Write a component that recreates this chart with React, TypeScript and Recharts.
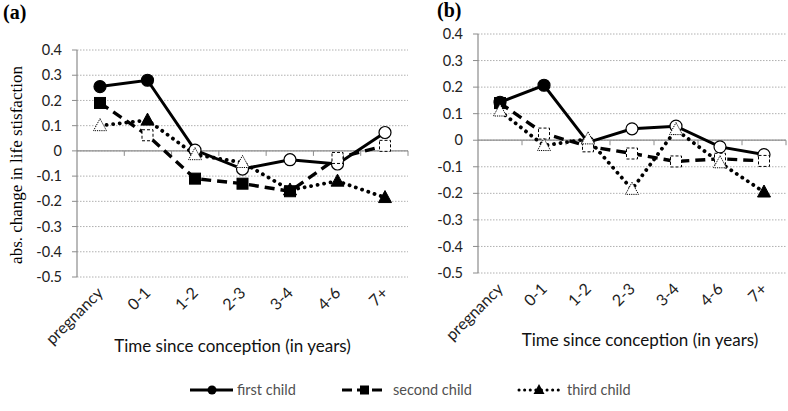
import React from 'react';
import { LineChart, Line, XAxis, YAxis, CartesianGrid, ReferenceLine, Label } from 'recharts';

// ---------- data ----------
const categories = ['pregnancy', '0-1', '1-2', '2-3', '3-4', '4-6', '7+'];
const yTicks = [-0.5, -0.4, -0.3, -0.2, -0.1, 0, 0.1, 0.2, 0.3, 0.4];

// panel (a)
const firstChildA = [0.255, 0.28, 0.003, -0.072, -0.035, -0.052, 0.073];
const secondChildA = [0.19, 0.062, -0.11, -0.13, -0.16, -0.028, 0.02];
const thirdChildA = [0.1, 0.122, -0.015, -0.046, -0.155, -0.12, -0.185];
// 1 = filled (significant) marker, 0 = hollow marker
const firstSigA = [1, 1, 0, 0, 0, 0, 0];
const secondSigA = [1, 0, 1, 1, 1, 0, 0];
const thirdSigA = [0, 1, 0, 0, 1, 1, 1];

// panel (b)
const firstChildB = [0.143, 0.207, -0.008, 0.043, 0.053, -0.025, -0.054];
const secondChildB = [0.14, 0.025, -0.023, -0.05, -0.08, -0.07, -0.078];
const thirdChildB = [0.11, -0.02, 0.005, -0.185, 0.04, -0.085, -0.195];
const firstSigB = [1, 1, 0, 0, 0, 0, 0];
const secondSigB = [1, 0, 0, 0, 0, 0, 0];
const thirdSigB = [0, 0, 0, 0, 0, 0, 1];

const seriesNames = ['first child', 'second child', 'third child'];
const xTitle = 'Time since conception (in years)';
const yTitle = 'abs. change in life stisfaction';

function buildRows(f: number[], s: number[], t: number[], fs: number[], ss: number[], ts: number[]) {
  return categories.map((c, i) => ({
    cat: c,
    first: f[i],
    second: s[i],
    third: t[i],
    s1: fs[i],
    s2: ss[i],
    s3: ts[i],
  }));
}

const rowsA = buildRows(firstChildA, secondChildA, thirdChildA, firstSigA, secondSigA, thirdSigA);
const rowsB = buildRows(firstChildB, secondChildB, thirdChildB, firstSigB, secondSigB, thirdSigB);

const FONT = 'Lato, "Open Sans", sans-serif';
const SERIF = '"Liberation Serif", "DejaVu Serif", serif';

// ---------- markers ----------
const circleDot = (props: any) => {
  const { cx, cy, payload, index } = props;
  if (cx == null || cy == null) return <g key={`c${index}`} />;
  const filled = payload.s1 === 1;
  return (
    <circle key={`c${index}`} cx={cx} cy={cy} r={6} fill={filled ? '#000' : '#fff'} stroke="#000" strokeWidth={1.2} />
  );
};

const squareDot = (props: any) => {
  const { cx, cy, payload, index } = props;
  if (cx == null || cy == null) return <g key={`s${index}`} />;
  const filled = payload.s2 === 1;
  return (
    <rect
      key={`s${index}`}
      x={cx - 5.5}
      y={cy - 5.5}
      width={11}
      height={11}
      fill={filled ? '#000' : '#fff'}
      stroke="#000"
      strokeWidth={1}
      strokeDasharray={filled ? undefined : '3 2'}
    />
  );
};

const triangleDot = (props: any) => {
  const { cx, cy, payload, index } = props;
  if (cx == null || cy == null) return <g key={`t${index}`} />;
  const filled = payload.s3 === 1;
  const pts = `${cx},${cy - 7} ${cx + 6.5},${cy + 5} ${cx - 6.5},${cy + 5}`;
  return (
    <polygon
      key={`t${index}`}
      points={pts}
      fill={filled ? '#000' : '#fff'}
      stroke="#000"
      strokeWidth={1}
      strokeDasharray={filled ? undefined : '1.2 1'}
    />
  );
};

// ---------- axis helpers ----------
const CatTick = (props: any) => {
  const { x, y, payload } = props;
  const ax = x + 4;
  const ay = y + 17;
  return (
    <text
      x={ax}
      y={ay}
      transform={`rotate(-45 ${ax} ${ay})`}
      textAnchor="end"
      fontSize={16}
      fontFamily={FONT}
      fill="#222"
    >
      {payload.value}
    </text>
  );
};

const ZeroAxis = (props: any) => {
  const { x1, x2, y1 } = props;
  if (x1 == null || x2 == null || y1 == null) return <g />;
  const n = categories.length;
  const step = (x2 - x1) / n;
  const ticks = [];
  for (let i = 1; i <= n; i++) {
    const tx = x1 + step * i;
    ticks.push(<line key={i} x1={tx} x2={tx} y1={y1} y2={y1 + 5} stroke="#8c8c8c" strokeWidth={1} />);
  }
  return (
    <g>
      <line x1={x1} x2={x2} y1={y1} y2={y1} stroke="#8c8c8c" strokeWidth={1.2} />
      {ticks}
    </g>
  );
};

const fmtY = (v: number) => (v === 0 ? '0' : v.toFixed(1));

function Panel(p: {
  rows: any[];
  width: number;
  height: number;
  margin: any;
  pad: number;
  titleDx: number;
  titleOffset: number;
}) {
  return (
    <LineChart width={p.width} height={p.height} data={p.rows} margin={p.margin}>
      <CartesianGrid vertical={false} stroke="#b0b0b0" strokeDasharray="1.5 1.5" />
      <XAxis
        dataKey="cat"
        axisLine={false}
        tickLine={false}
        tickSize={0}
        tickMargin={0}
        interval={0}
        height={75}
        padding={{ left: p.pad, right: p.pad }}
        tick={<CatTick />}
      >
        <Label
          content={(lp: any) => {
            const vb = lp.viewBox || {};
            return (
              <text
                x={vb.x + vb.width / 2 + p.titleDx}
                y={vb.y + p.titleOffset}
                textAnchor="middle"
                fontSize={17}
                fontFamily={FONT}
                fill="#111"
              >
                {xTitle}
              </text>
            );
          }}
        />
      </XAxis>
      <YAxis
        type="number"
        domain={[-0.5, 0.4]}
        ticks={yTicks}
        width={40}
        interval={0}
        tickFormatter={fmtY}
        tickSize={5}
        tickMargin={10}
        axisLine={{ stroke: '#8c8c8c', strokeWidth: 1.2 }}
        tickLine={{ stroke: '#8c8c8c' }}
        tick={{ fontSize: 14.5, fontFamily: FONT, fill: '#222' }}
      />
      <ReferenceLine y={0} shape={ZeroAxis} />
      <Line
        dataKey="first"
        type="linear"
        stroke="#000"
        strokeWidth={3}
        dot={circleDot}
        activeDot={false}
        isAnimationActive={false}
      />
      <Line
        dataKey="second"
        type="linear"
        stroke="#000"
        strokeWidth={3.4}
        strokeDasharray="10 6"
        dot={squareDot}
        activeDot={false}
        isAnimationActive={false}
      />
      <Line
        dataKey="third"
        type="linear"
        stroke="#000"
        strokeWidth={3.8}
        strokeDasharray="0.1 6.5"
        strokeLinecap="round"
        dot={triangleDot}
        activeDot={false}
        isAnimationActive={false}
      />
    </LineChart>
  );
}

function LegendSvg() {
  const cy = 13;
  return (
    <svg width={788} height={30} style={{ position: 'absolute', left: 0, top: 377 }}>
      <line x1={190} x2={233} y1={cy} y2={cy} stroke="#000" strokeWidth={3} />
      <circle cx={212} cy={cy} r={4.5} fill="#000" />
      <text x={237} y={cy + 5} fontSize={14.5} fontFamily={FONT} fill="#505050">
        {seriesNames[0]}
      </text>
      <line x1={342} x2={383} y1={cy} y2={cy} stroke="#000" strokeWidth={3} strokeDasharray="10 5" />
      <rect x={360} y={cy - 4.5} width={9} height={9} fill="#000" />
      <text x={393} y={cy + 5} fontSize={14.5} fontFamily={FONT} fill="#505050">
        {seriesNames[1]}
      </text>
      <line
        x1={519}
        x2={560}
        y1={cy}
        y2={cy}
        stroke="#000"
        strokeWidth={3}
        strokeDasharray="0.1 5.5"
        strokeLinecap="round"
      />
      <polygon points={`539,${cy - 6} 544.5,${cy + 4} 533.5,${cy + 4}`} fill="#000" />
      <text x={567} y={cy + 5} fontSize={14.5} fontFamily={FONT} fill="#505050">
        {seriesNames[2]}
      </text>
    </svg>
  );
}

export default function App() {
  return (
    <div style={{ position: 'absolute', left: 0, top: 0, width: 788, height: 411, background: '#fff', overflow: 'hidden' }}>
      <div style={{ position: 'absolute', left: 0, top: 0 }}>
        <Panel
          rows={rowsA}
          width={420}
          height={372}
          margin={{ top: 50, right: 12, bottom: 20, left: 37 }}
          pad={23}
          titleDx={-10}
          titleOffset={75}
        />
      </div>
      <div style={{ position: 'absolute', left: 400, top: 0 }}>
        <Panel
          rows={rowsB}
          width={388}
          height={372}
          margin={{ top: 34, right: 2, bottom: 24, left: 38 }}
          pad={22}
          titleDx={8}
          titleOffset={73}
        />
      </div>
      <svg width={788} height={380} style={{ position: 'absolute', left: 0, top: 0, pointerEvents: 'none' }}>
        <text x={3} y={19} fontSize={20} fontWeight="bold" fontFamily={SERIF} fill="#000">
          (a)
        </text>
        <text x={437} y={17} fontSize={20} fontWeight="bold" fontFamily={SERIF} fill="#000">
          (b)
        </text>
        <text
          x={22}
          y={165}
          transform="rotate(-90 22 165)"
          textAnchor="middle"
          fontSize={17}
          fontFamily={SERIF}
          fill="#000"
        >
          {yTitle}
        </text>
      </svg>
      <LegendSvg />
    </div>
  );
}
